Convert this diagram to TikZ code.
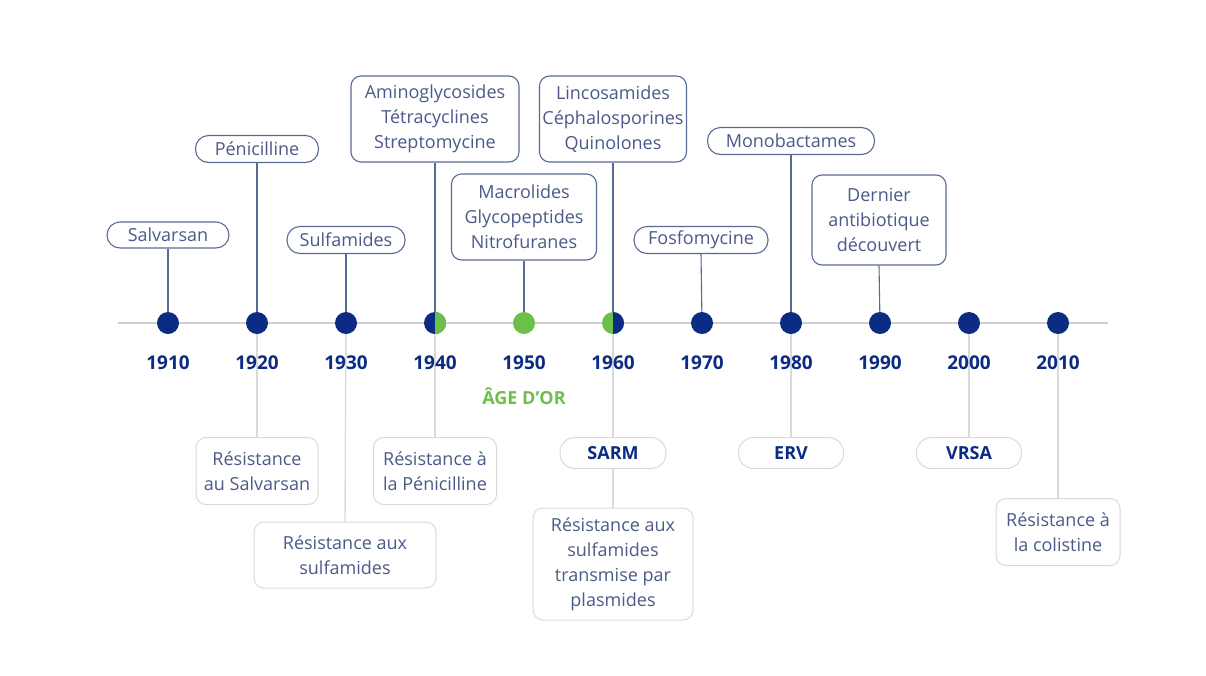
\documentclass[tikz,border=0pt]{standalone}
\usepackage{fontspec}
\setmainfont{Open Sans}
\usetikzlibrary{backgrounds}
\definecolor{navy}{HTML}{0C2C84}
\definecolor{goldg}{HTML}{6CC04A}
\definecolor{txt}{HTML}{4B5A88}
\definecolor{topline}{HTML}{5A6A96}
\definecolor{grayb}{HTML}{DADADA}
\definecolor{axisc}{HTML}{CFCFCF}
\begin{document}
\begin{tikzpicture}[x=1pt,y=-1pt,
 every node/.style={font=\fontsize{18}{25}\selectfont, text=txt, align=center, inner sep=0pt},
 topbox/.style={draw=topline, line width=1.1pt, rounded corners=10pt, fill=white},
 pill/.style={topbox, rounded corners=13pt},
 botbox/.style={draw=grayb, line width=1pt, rounded corners=10pt, fill=white},
 botpill/.style={botbox, rounded corners=15pt, font=\fontsize{18}{25}\selectfont\bfseries, text=navy},
 dot/.style={circle, fill=navy, minimum size=22pt},
 year/.style={font=\fontsize{19}{22}\selectfont\bfseries, text=navy},
 topconn/.style={draw=topline, line width=1.1pt},
 botconn/.style={draw=grayb, line width=1.4pt},
 axisline/.style={draw=axisc, line width=1.6pt},
 halfR/.style={path picture={\fill[#1] (path picture bounding box.north) rectangle (path picture bounding box.south east);}},
]
\useasboundingbox (0,0) rectangle (1206,675);
% timeline ends
\coordinate (tl) at (118,323);
\coordinate (tr) at (1108,323);
% dots
\node[dot] (d1910) at (168,323) {};
\node[dot] (d1920) at (257,323) {};
\node[dot] (d1930) at (346,323) {};
\node[dot, halfR=goldg] (d1940) at (435,323) {};
\node[dot, fill=goldg] (d1950) at (524,323) {};
\node[dot, fill=goldg, halfR=navy] (d1960) at (613,323) {};
\node[dot] (d1970) at (702,323) {};
\node[dot] (d1980) at (791,323) {};
\node[dot] (d1990) at (880,323) {};
\node[dot] (d2000) at (969,323) {};
\node[dot] (d2010) at (1058,323) {};
% years
\foreach \yr/\xx in {1910/168,1920/257,1930/346,1940/435,1950/524,1960/613,1970/702,1980/791,1990/880,2000/969,2010/1058}
  \node[year] (y\yr) at (\xx,363) {\yr};
\node[year, font=\fontsize{18}{22}\selectfont\bfseries, text=goldg] (age) at (524,396) {ÂGE D’OR};
% top boxes
\node[pill, minimum width=122pt, minimum height=26pt] (salv) at (168,235) {Salvarsan};
\node[pill, minimum width=123pt, minimum height=27pt] (peni) at (257,149) {Pénicilline};
\node[pill, minimum width=118pt, minimum height=27pt] (sulf) at (346,240) {Sulfamides};
\node[topbox, minimum width=168pt, minimum height=86pt] (amino) at (435,119) {Aminoglycosides\\Tétracyclines\\Streptomycine};
\node[topbox, minimum width=145pt, minimum height=86pt] (macro) at (524,217) {Macrolides\\Glycopeptides\\Nitrofuranes};
\node[topbox, minimum width=147pt, minimum height=86pt] (linco) at (613,119) {Lincosamides\\Céphalosporines\\Quinolones};
\node[pill, minimum width=134pt, minimum height=27pt] (fosfo) at (701,240) {Fosfomycine};
\node[pill, minimum width=167pt, minimum height=27pt] (mono) at (791,141) {Monobactames};
\node[topbox, minimum width=134pt, minimum height=90pt] (dern) at (879,220) {Dernier\\antibiotique\\découvert};
% bottom boxes
\node[botbox, minimum width=122pt, minimum height=67pt] (rsalv) at (257,471) {Résistance\\au Salvarsan};
\node[botbox, minimum width=182pt, minimum height=66pt] (rsulf) at (345,555) {Résistance aux\\sulfamides};
\node[botbox, minimum width=123pt, minimum height=67pt] (rpeni) at (435,471) {Résistance à\\la Pénicilline};
\node[botpill, minimum width=106pt, minimum height=31pt] (sarm) at (613,453) {SARM};
\node[botbox, minimum width=160pt, minimum height=112pt] (rplas) at (613,564) {Résistance aux\\sulfamides\\transmise par\\plasmides};
\node[botpill, minimum width=105pt, minimum height=31pt] (erv) at (791,453) {ERV};
\node[botpill, minimum width=105pt, minimum height=31pt] (vrsa) at (969,453) {VRSA};
\node[botbox, minimum width=124pt, minimum height=67pt] (rcoli) at (1058,532) {Résistance à\\la colistine};
% connectors
\begin{scope}[on background layer]
\draw[axisline] (tl) -- (tr);
\draw[topconn] (salv.south) -- (d1910.center);
\draw[topconn] (peni.south) -- (d1920.center);
\draw[topconn] (sulf.south) -- (d1930.center);
\draw[topconn] (amino.south) -- (d1940.center);
\draw[topconn] (macro.south) -- (d1950.center);
\draw[topconn] (linco.south) -- (d1960.center);
\draw[topconn] (fosfo.south) -- (d1970.center);
\draw[topconn] (mono.south) -- (d1980.center);
\draw[topconn] (dern.south) -- (d1990.center);
\draw[botconn] (d1920.center) -- (rsalv.north);
\draw[botconn] (d1930.center) -- (rsulf.north);
\draw[botconn] (d1940.center) -- (rpeni.north);
\draw[botconn] (d1960.center) -- (sarm.north);
\draw[botconn] (sarm.south) -- (rplas.north);
\draw[botconn] (d1980.center) -- (erv.north);
\draw[botconn] (d2000.center) -- (vrsa.north);
\draw[botconn] (d2010.center) -- (rcoli.north);
\end{scope}
\end{tikzpicture}
\end{document}
